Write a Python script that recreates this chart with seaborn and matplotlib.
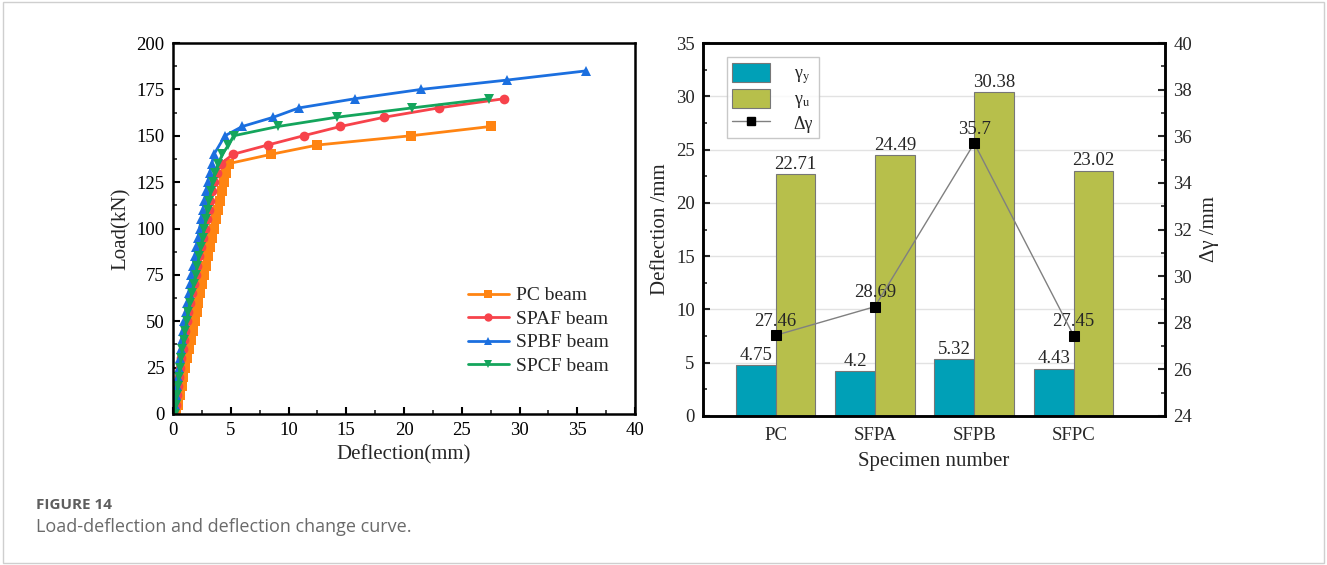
import numpy as np
import pandas as pd
import matplotlib
matplotlib.use("Agg")
import matplotlib.pyplot as plt
import seaborn as sns
from matplotlib.patches import Rectangle
from matplotlib.lines import Line2D
from matplotlib.patches import Patch

# ---------------- data: left panel (load-deflection) ----------------
pc_defl = [0.25, 0.42, 0.58, 0.74, 0.90, 1.07, 1.23, 1.39, 1.55, 1.71, 1.87, 2.04, 2.20, 2.37,
           2.54, 2.71, 2.88, 3.05, 3.22, 3.39, 3.56, 3.73, 3.90, 4.07, 4.24, 4.41, 4.60, 4.85,
           8.5, 12.5, 20.6, 27.5]
pc_load = [0, 5, 10, 15, 20, 25, 30, 35, 40, 45, 50, 55, 60, 65, 70, 75, 80, 85, 90, 95, 100,
           105, 110, 115, 120, 125, 130, 135, 140, 145, 150, 155]

spaf_defl = [0.12, 0.22, 0.32, 0.42, 0.52, 0.62, 0.73, 0.84, 0.96, 1.08, 1.20, 1.34, 1.49, 1.65,
             1.81, 1.97, 2.12, 2.28, 2.44, 2.60, 2.76, 2.92, 3.08, 3.24, 3.40, 3.56, 3.78, 4.15,
             5.2, 8.2, 11.3, 14.5, 18.3, 23.0, 28.7]
spaf_load = [0, 5, 10, 15, 20, 25, 30, 35, 40, 45, 50, 55, 60, 65, 70, 75, 80, 85, 90, 95, 100,
             105, 110, 115, 120, 125, 130, 135, 140, 145, 150, 155, 160, 165, 170]

spbf_defl = [0.08, 0.16, 0.24, 0.32, 0.40, 0.48, 0.58, 0.68, 0.78, 0.88, 0.98, 1.10, 1.22, 1.35,
             1.47, 1.60, 1.74, 1.88, 2.02, 2.16, 2.30, 2.44, 2.58, 2.72, 2.86, 3.00, 3.18, 3.36,
             3.55, 4.5, 6.0, 8.7, 10.9, 15.8, 21.5, 28.9, 35.8]
spbf_load = [0, 5, 10, 15, 20, 25, 30, 35, 40, 45, 50, 55, 60, 65, 70, 75, 80, 85, 90, 95, 100,
             105, 110, 115, 120, 125, 130, 135, 140, 150, 155, 160, 165, 170, 175, 180, 185]

spcf_defl = [0.15, 0.24, 0.33, 0.42, 0.51, 0.60, 0.71, 0.82, 0.94, 1.06, 1.18, 1.32, 1.47, 1.63,
             1.80, 1.96, 2.11, 2.26, 2.41, 2.56, 2.71, 2.85, 2.99, 3.14, 3.28, 3.43, 3.65, 3.92,
             4.27, 4.80, 5.25, 9.1, 14.2, 20.7, 27.4]
spcf_load = [0, 5, 10, 15, 20, 25, 30, 35, 40, 45, 50, 55, 60, 65, 70, 75, 80, 85, 90, 95, 100,
             105, 110, 115, 120, 125, 130, 135, 140, 145, 150, 155, 160, 165, 170]

series_names = ["PC beam", "SPAF beam", "SPBF beam", "SPCF beam"]

# ---------------- data: right panel ----------------
specimens = ["PC", "SFPA", "SFPB", "SFPC"]
gamma_y = [4.75, 4.2, 5.32, 4.43]
gamma_u = [22.71, 24.49, 30.38, 23.02]
delta_gamma = [27.46, 28.69, 35.7, 27.45]
gamma_y_labels = ["4.75", "4.2", "5.32", "4.43"]
gamma_u_labels = ["22.71", "24.49", "30.38", "23.02"]
delta_labels = ["27.46", "28.69", "35.7", "27.45"]

# ---------------- styling ----------------
sns.set_theme(style="white")
plt.rcParams["font.family"] = ["Liberation Serif", "DejaVu Serif"]
plt.rcParams["mathtext.fontset"] = "stix"

line_colors = ["#FF8412", "#F7434B", "#1B6FDF", "#14A55C"]
markers = ["s", "o", "^", "v"]
cyan = "#00A0B7"
olive = "#B7BF4B"

fig = plt.figure(figsize=(13.27, 5.65), dpi=100)

# outer frame
fig.patches.append(Rectangle((0.002, 0.003), 0.996, 0.994, transform=fig.transFigure,
                             fill=False, edgecolor="#cfcfcf", linewidth=1.0))

# ---------------- left panel ----------------
axL = fig.add_axes([173 / 1327, 1 - 414 / 565, (635 - 173) / 1327, (414 - 43) / 565])
frames = []
for name, xs, ys in zip(series_names, [pc_defl, spaf_defl, spbf_defl, spcf_defl],
                        [pc_load, spaf_load, spbf_load, spcf_load]):
    frames.append(pd.DataFrame({"Deflection": xs, "Load": ys, "Series": name}))
dfL = pd.concat(frames, ignore_index=True)

sns.lineplot(data=dfL, x="Deflection", y="Load", hue="Series", style="Series",
             hue_order=series_names, style_order=series_names,
             palette=line_colors, markers=markers, dashes=False, sort=False,
             estimator=None, linewidth=2.0, markersize=7, markeredgewidth=0,
             ax=axL, legend=False)

axL.set_xlim(0, 40)
axL.set_ylim(0, 200)
axL.set_xticks(np.arange(0, 41, 5))
axL.set_yticks(np.arange(0, 201, 25))
axL.set_xticks(np.arange(2.5, 40, 5), minor=True)
axL.set_yticks(np.arange(12.5, 200, 25), minor=True)
axL.tick_params(axis="both", which="major", direction="in", length=5, width=1.5,
                labelsize=13.5, colors="black", bottom=True, left=True, top=False, right=False, pad=6)
axL.tick_params(axis="both", which="minor", direction="in", length=3, width=1.2,
                bottom=True, left=True, top=False, right=False)
for sp in axL.spines.values():
    sp.set_linewidth(1.8)
    sp.set_color("black")
axL.set_xlabel("Deflection(mm)", fontsize=15, labelpad=4)
axL.set_ylabel("Load(kN)", fontsize=15, labelpad=4)

handles = [Line2D([0], [0], color=c, marker=m, lw=2.0, markersize=6, markeredgewidth=0)
           for c, m in zip(line_colors, markers)]
axL.legend(handles, series_names, loc="upper left", bbox_to_anchor=(0.6, 0.39),
           frameon=False, fontsize=14, handlelength=2.1, labelspacing=0.3,
           handletextpad=0.4)

# ---------------- right panel ----------------
axR = fig.add_axes([703 / 1327, 1 - 416 / 565, (1165 - 703) / 1327, (416 - 43) / 565])
dfR = pd.DataFrame({
    "Specimen": specimens * 2,
    "Deflection": gamma_y + gamma_u,
    "Kind": ["gy"] * 4 + ["gu"] * 4,
})
sns.barplot(data=dfR, x="Specimen", y="Deflection", hue="Kind", order=specimens,
            hue_order=["gy", "gu"], palette=[cyan, olive], width=0.8, dodge=True,
            saturation=1, edgecolor="#777777", linewidth=0.8, ax=axR, legend=False,
            zorder=2)
axR.set_ylim(0, 35)
axR.set_xlim(-0.73, 3.92)
axR.set_yticks(np.arange(0, 36, 5))
axR.set_yticks(np.arange(2.5, 35, 5), minor=True)
axR.yaxis.grid(True, which="major", color="#e2e2e2", linewidth=1.0, zorder=0)
axR.set_axisbelow(True)
axR.tick_params(axis="y", which="major", direction="in", length=5, width=1.5, labelsize=13.5, pad=6,
                left=True)
axR.tick_params(axis="y", which="minor", direction="in", length=3, width=1.2, left=True)
axR.tick_params(axis="x", which="both", length=0, labelsize=13.5, pad=8)
for sp in axR.spines.values():
    sp.set_linewidth(1.8)
    sp.set_color("black")
axR.set_xlabel("Specimen number", fontsize=15, labelpad=6)
axR.set_ylabel("Deflection /mm", fontsize=15, labelpad=4)

# bar labels
for cont, labs in zip(axR.containers, [gamma_y_labels, gamma_u_labels]):
    axR.bar_label(cont, labels=labs, padding=1, fontsize=13.5)

# secondary axis for delta gamma
axR2 = axR.twinx()
dfD = pd.DataFrame({"pos": np.arange(len(specimens)), "dg": delta_gamma})
sns.lineplot(data=dfD, x="pos", y="dg", color="#808080", linewidth=1.0, marker="s",
             markersize=6.5, markerfacecolor="black", markeredgecolor="black",
             ax=axR2, legend=False, zorder=5)
axR2.set_ylim(24, 40)
axR2.set_xlim(-0.73, 3.92)
axR2.set_yticks(np.arange(24, 41, 2))
axR2.set_yticks(np.arange(25, 40, 2), minor=True)
axR2.tick_params(axis="y", which="major", direction="in", length=5, width=1.5, labelsize=13.5, pad=6,
                 right=True)
axR2.tick_params(axis="y", which="minor", direction="in", length=3, width=1.2, right=True)
axR2.set_ylabel("Δγ /mm", fontsize=15, labelpad=6)
axR2.set_xlabel("")
for sp in axR2.spines.values():
    sp.set_linewidth(1.8)
    sp.set_color("black")
for i, (v, lab) in enumerate(zip(delta_gamma, delta_labels)):
    axR2.annotate(lab, (i, v), xytext=(0, 4), textcoords="offset points",
                  ha="center", va="bottom", fontsize=13.5)

leg_handles = [Patch(facecolor=cyan, edgecolor="#777777", linewidth=0.8),
               Patch(facecolor=olive, edgecolor="#777777", linewidth=0.8),
               Line2D([0], [0], color="#808080", lw=1.0, marker="s", markersize=6,
                      markerfacecolor="black", markeredgecolor="black")]
leg_labels = [r"γ$_{\mathrm{y}}$", r"γ$_{\mathrm{u}}$", "Δγ"]
leg = axR2.legend(leg_handles, leg_labels, loc="upper left", bbox_to_anchor=(0.052, 0.962),
                  borderaxespad=0, frameon=True, fontsize=13, handlelength=2.1,
                  handleheight=1.3, handletextpad=1.3, labelspacing=0.15, fancybox=False,
                  borderpad=0.3)
leg.get_frame().set_edgecolor("#bbbbbb")
leg.get_frame().set_linewidth(1.0)

# ---------------- caption ----------------
fig.text(36 / 1327, 1 - 505 / 565, "FIGURE 14", fontsize=11, color="#5e5e5e",
         family=["Open Sans", "DejaVu Sans"], fontweight="bold", va="center")
fig.text(36 / 1327, 1 - 527 / 565, "Load-deflection and deflection change curve.", fontsize=13,
         color="#6a6a6a", family=["Open Sans", "DejaVu Sans"], va="center")

fig.savefig("out.png", dpi=100)
